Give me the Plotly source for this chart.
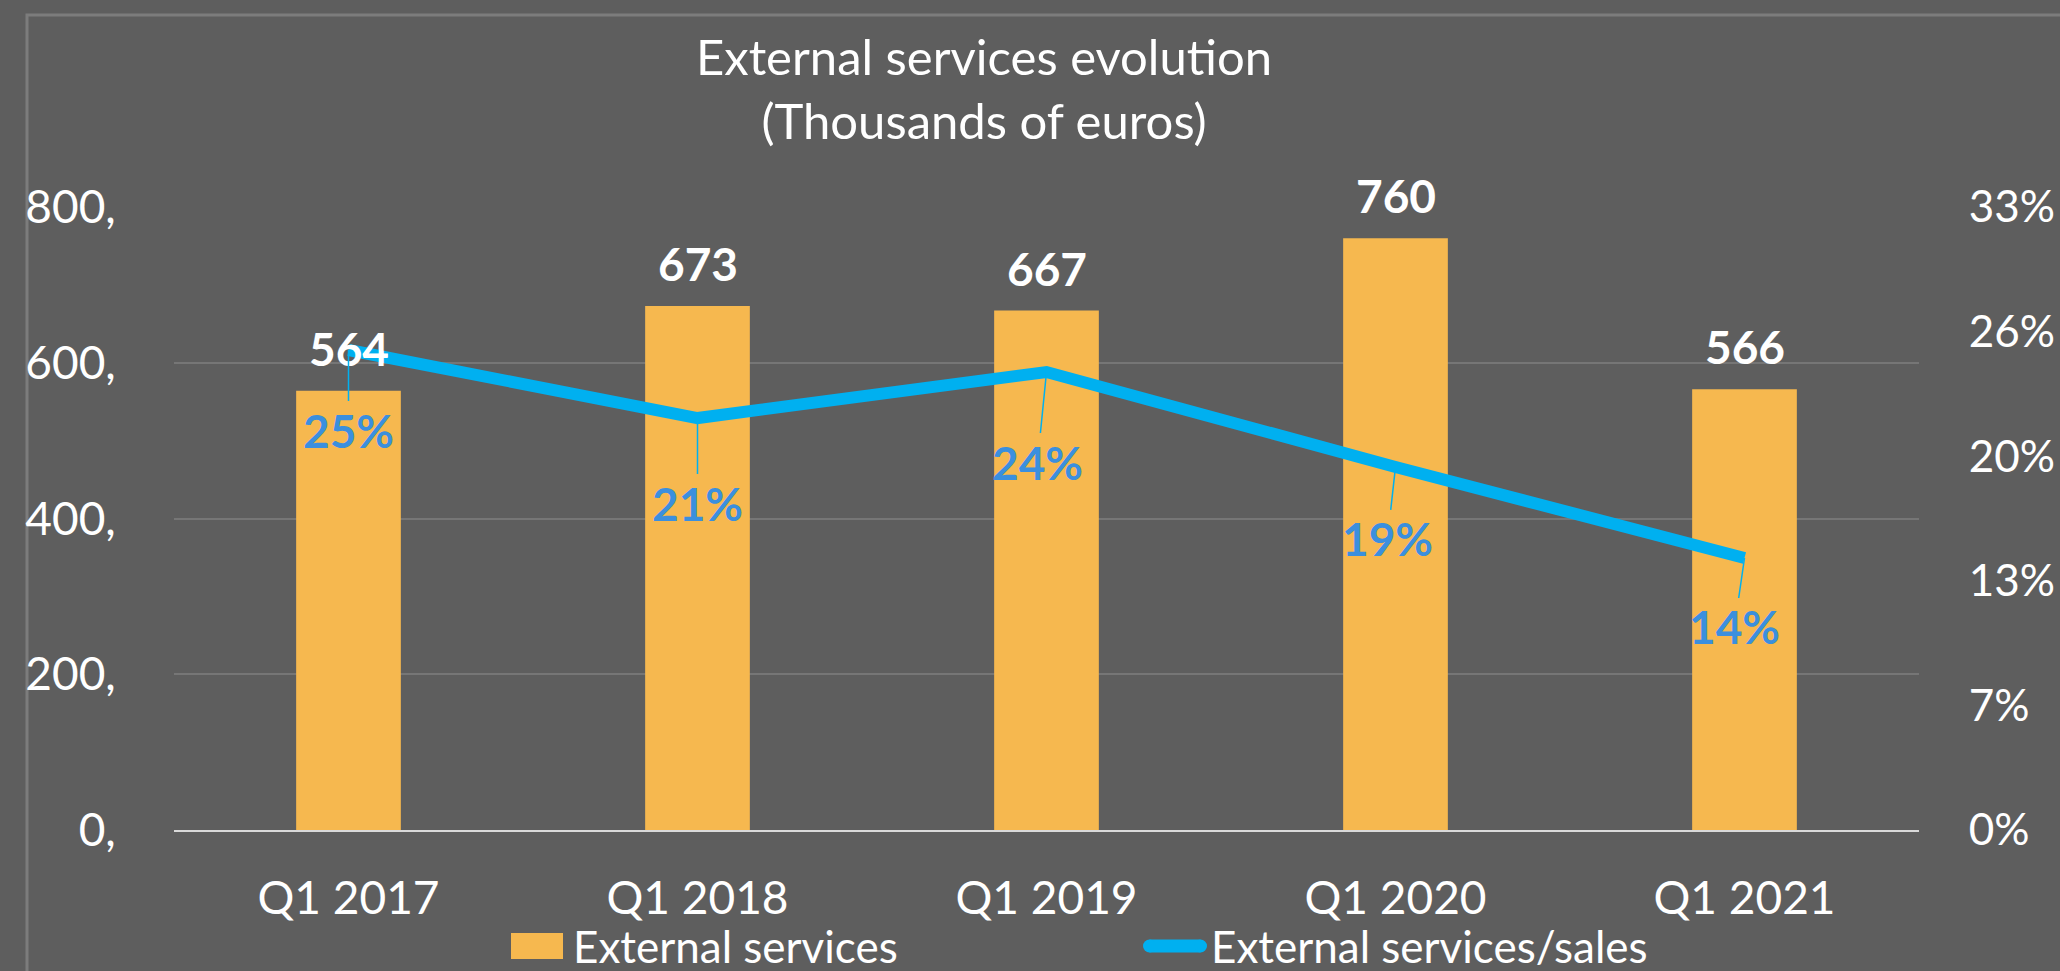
import plotly.graph_objects as go

# ---- data ----
categories = ["Q1 2017", "Q1 2018", "Q1 2019", "Q1 2020", "Q1 2021"]
external_services = [564, 673, 667, 760, 566]
services_to_sales = [0.2504, 0.2149, 0.2389, 0.1894, 0.1419]
left_tickvals = [0, 200, 400, 600, 800]
left_ticktext = ["0,", "200,", "400,", "600,", "800,"]
right_tickvals = [0, 0.065, 0.13, 0.195, 0.26, 0.325]
right_ticktext = ["0%", "7%", "13%", "20%", "26%", "33%"]
series_names = ["External services", "External services/sales"]

# ---- style ----
W, H = 2060, 971
L, R, T, B = 174, 141, 207, 141
BG = "#5e5e5e"
GRID = "#767676"
BAR = "#f6b84f"
LINE = "#00b0f0"
PCT = "#3b8fde"
FONT = "Lato"
label_offsets = [(0, 80), (0, 85), (-9, 90), (-8, 72), (-10, 69)]

PW, PH = W - L - R, H - T - B


def px(xpix):
    return (xpix - L) / PW


def py(ypix):
    return (H - B - ypix) / PH


fig = go.Figure()
fig.add_trace(go.Bar(
    x=categories, y=external_services, name=series_names[0],
    marker=dict(color=BAR, line=dict(width=0)), yaxis="y", showlegend=False,
))
fig.add_trace(go.Scatter(
    x=categories, y=services_to_sales, name=series_names[1],
    mode="lines", line=dict(color=LINE, width=12), yaxis="y2", showlegend=False,
))

annotations = []
for c, v in zip(categories, external_services):
    annotations.append(dict(
        x=c, y=v, xref="x", yref="y", text=f"<b>{v}</b>", showarrow=False,
        yanchor="bottom", yshift=13, font=dict(family=FONT, size=46, color="white"),
    ))
for c, v, (dx, dy) in zip(categories, services_to_sales, label_offsets):
    annotations.append(dict(
        x=c, y=v, xref="x", yref="y2", text=f"<b>{v:.0%}</b>", showarrow=True,
        arrowhead=0, arrowwidth=1.5, arrowcolor=LINE, ax=dx, ay=dy,
        font=dict(family=FONT, size=46, color=PCT),
    ))

# legend (drawn as keys + text)
legend_y = 946
annotations.append(dict(
    x=px(571), y=py(legend_y), xref="paper", yref="paper", text=series_names[0],
    showarrow=False, xanchor="left", yanchor="middle",
    font=dict(family=FONT, size=44, color="white"),
))
annotations.append(dict(
    x=px(1209), y=py(legend_y), xref="paper", yref="paper", text=series_names[1],
    showarrow=False, xanchor="left", yanchor="middle",
    font=dict(family=FONT, size=44, color="white"),
))

shapes = [
    dict(type="rect", xref="paper", yref="paper",
         x0=px(27), x1=px(2090), y0=py(1010), y1=py(15),
         line=dict(color="#7c7c7c", width=3), fillcolor="rgba(0,0,0,0)", layer="below"),
    dict(type="rect", xref="paper", yref="paper",
         x0=px(511), x1=px(563), y0=py(959), y1=py(933),
         line=dict(width=0), fillcolor=BAR),
    dict(type="line", xref="paper", yref="paper",
         x0=px(1149.5), x1=px(1200.5), y0=py(legend_y), y1=py(legend_y),
         line=dict(color=LINE, width=13)),
    dict(type="circle", xref="paper", yref="paper",
         x0=px(1143), x1=px(1156), y0=py(legend_y + 6.5), y1=py(legend_y - 6.5),
         line=dict(width=0), fillcolor=LINE),
    dict(type="circle", xref="paper", yref="paper",
         x0=px(1194), x1=px(1207), y0=py(legend_y + 6.5), y1=py(legend_y - 6.5),
         line=dict(width=0), fillcolor=LINE),
]

fig.update_layout(
    width=W, height=H, autosize=False,
    paper_bgcolor=BG, plot_bgcolor=BG,
    margin=dict(l=L, r=R, t=T, b=B, autoexpand=False),
    font=dict(family=FONT, size=46, color="white"),
    title=dict(
        text="External services evolution<br>(Thousands of euros)",
        x=984 / W, xanchor="center", xref="container",
        y=1 - 75 / H, yanchor="top", yref="container",
        font=dict(family=FONT, size=49, color="white"),
    ),
    bargap=0.7,
    showlegend=False,
    xaxis=dict(
        showgrid=False, showline=True, linecolor="#d9d9d9", linewidth=2,
        ticks="outside", ticklen=27, tickcolor="rgba(0,0,0,0)",
        tickfont=dict(family=FONT, size=46, color="white"), automargin=False,
    ),
    yaxis=dict(
        range=[0, 800], tickvals=left_tickvals, ticktext=left_ticktext,
        showgrid=True, gridcolor=GRID, gridwidth=2, zeroline=False,
        ticks="outside", ticklen=48, tickcolor="rgba(0,0,0,0)",
        tickfont=dict(family=FONT, size=46, color="white"), automargin=False,
    ),
    yaxis2=dict(
        range=[0, 0.325], tickvals=right_tickvals, ticktext=right_ticktext,
        overlaying="y", side="right", showgrid=False, zeroline=False,
        ticks="outside", ticklen=40, tickcolor="rgba(0,0,0,0)",
        tickfont=dict(family=FONT, size=44, color="white"), automargin=False,
    ),
    annotations=annotations,
    shapes=shapes,
)

fig.write_html("out.html", config={"displayModeBar": False},
               post_script="document.body.style.margin='0';")
